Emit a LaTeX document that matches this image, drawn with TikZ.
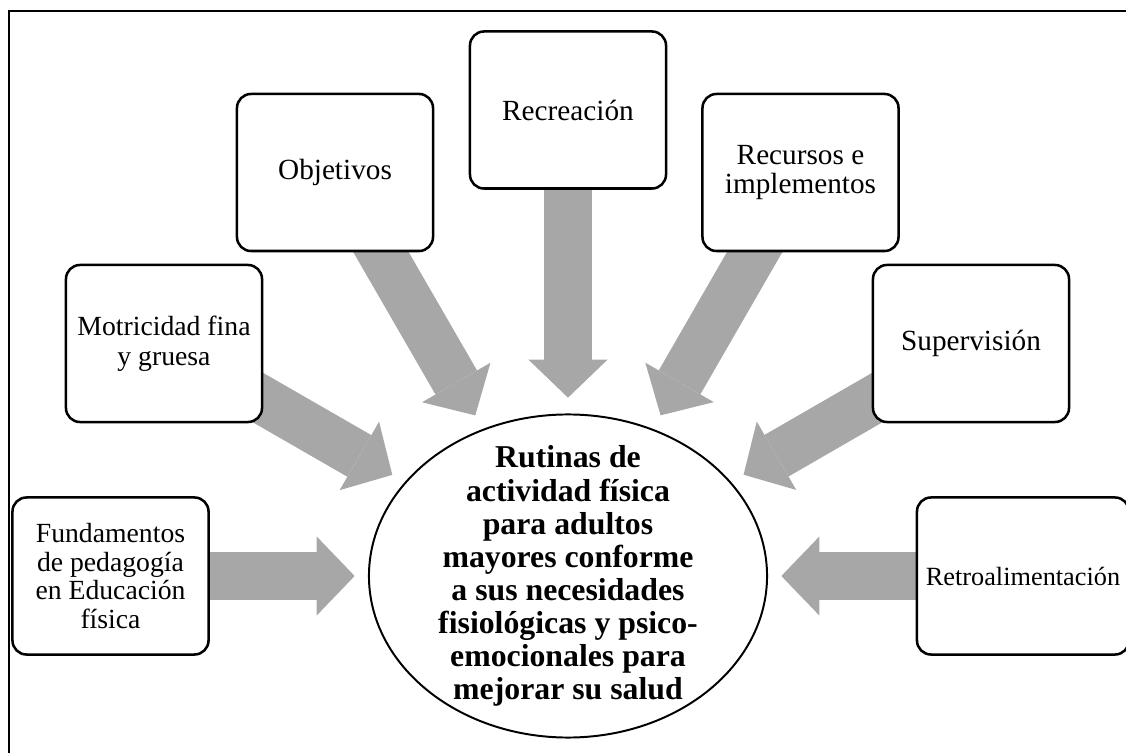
\documentclass[tikz,border=0pt]{standalone}
\usepackage{fontspec}
\setmainfont{Liberation Serif}
\usetikzlibrary{arrows.meta,shapes.geometric,backgrounds}
\definecolor{grisflecha}{RGB}{167,167,167}

\begin{document}
\begin{tikzpicture}[x=0.025cm,y=-0.025cm,
  caja/.style={draw,line width=1.8pt,rounded corners=0.35cm,fill=white,minimum width=4.9cm,minimum height=3.925cm,align=center,inner sep=2pt,font=\fontsize{20.8}{20}\selectfont},
  flecha/.style={grisflecha,line width=1.2cm,-{Triangle[width=1.975cm,length=0.95cm,line width=0pt]}}]
\useasboundingbox (0,0) rectangle (1126,753);
\draw[line width=1.2pt] (9,11) rectangle (1200,800);

\node[draw,ellipse,line width=1.4pt,minimum width=9.95cm,minimum height=8.075cm,inner sep=0pt] (rutinas) at (568,576) {};
\node[align=center,inner sep=0pt,font=\bfseries\fontsize{22.6}{23.5}\selectfont] (rutinastexto) at (rutinas.center) {Rutinas de\\actividad física\\para adultos\\mayores conforme\\a sus necesidades\\fisiológicas y psico-\\emocionales para\\mejorar su salud};
\node[ellipse,minimum width=10.65cm,minimum height=8.9cm,inner sep=0pt] (alcance) at (568,576) {};

\node[caja,font=\fontsize{19.7}{20.3}\selectfont] (fund) at (110.5,576) {Fundamentos\\de pedagogía\\en Educación\\física};
\node[caja,font=\fontsize{19.7}{21.3}\selectfont] (mot) at (164,343.5) {Motricidad fina\\y gruesa};
\node[caja] (obj) at (335,172.5) {Objetivos};
\node[caja] (recre) at (568,110) {Recreación};
\node[caja] (recur) at (800.5,172.5) {Recursos e\\implementos};
\node[caja] (sup) at (971,343.5) {Supervisión};
\node[caja,minimum width=5.3cm,font=\fontsize{18.7}{20}\selectfont] (retro) at (1023,576) {Retroalimentación};

\begin{scope}[on background layer]
\foreach \n in {fund,mot,obj,recre,recur,sup,retro}
  \draw[flecha] (\n.center) -- (alcance);
\end{scope}
\end{tikzpicture}
\end{document}
